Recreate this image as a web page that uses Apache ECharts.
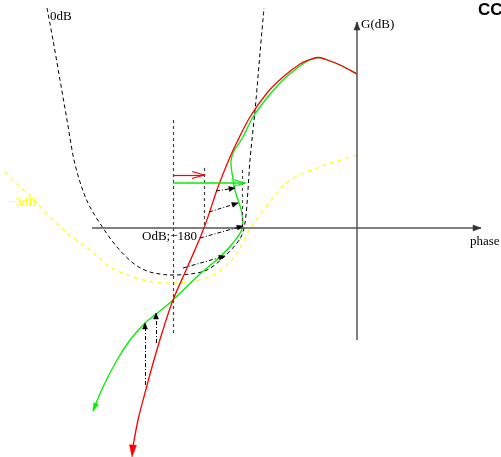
<!DOCTYPE html>
<html><head><meta charset="utf-8">
<script src="https://cdn.jsdelivr.net/npm/echarts@6/dist/echarts.min.js"></script>
<style>html,body{margin:0;padding:0;background:#fff}#c{width:501px;height:457px}</style>
</head><body><div id="c"></div>
<script>
// Nichols-plane sketch: open-loop locus (red), corrected locus (green),
// 0 dB and -3 dB closed-loop contours. Coordinates are in plane units.

const redLocus = [[132,452],[138,420],[145,393],[152,367],[162,333],[173,300],[187,268],[204,228],[218,187],[230,157],[237,142],[250,117],[267,93],[283,77],[300,64],[310,59.5],[318,57.5],[326,59.5],[340,65],[357,74]];
const greenLocus = [[93,411],[103,387],[117,360],[130,340],[145,323],[155,315],[173,300],[200,274],[220,257],[233,243],[242,229],[242,213],[238,200],[235,190],[232,173],[231,161],[234,151],[243,137],[253,117],[267,98],[283,80],[300,66],[310,60],[318,57.5],[326,59.5],[340,65],[357,74]];
const zeroDbContour = [[47,8],[53,40],[60,80],[67,120],[74,160],[82,188],[90,207],[103,228],[117,247],[133,263],[147,271],[160,274],[172,275],[190,274],[207,270],[223,258],[237,243],[243,232],[246,215],[248,190],[250,160],[253,130],[256,100],[260,53],[264,8]];
const minus3DbContour = [[5,172],[20,187],[33,198],[45,212],[67,233],[90,250],[110,267],[133,277],[153,282],[173,283],[195,281],[215,274],[230,262],[240,248],[250,229],[260,215],[273,198],[283,186],[297,176],[317,168],[337,161],[357,155]];

// guide verticals [x, yTop, yBottom]
const guides = [[173,120,333],[204,168,228],[242,170,228]];

// correction arrows [fromX, fromY, toX, toY]
const redShift = [[173,175,204,175]];
const greenShift = [[173,183,245,183]];
const correctionArrows = [[216,191,235,188],[209,212,238,203],[200,238,243,226],[183,268,225,256],[145,385,145,323],[156,343,156,313]];

// plane axes [fromX, fromY, toX, toY]
const phaseAxis = [92,228,481,228];
const gainAxis = [357,340,357,22];

// labels [text, x, y, colour]
const labels = [
  ['0dB', 50, 17, '#000'],
  ['G(dB)', 361, 25, '#000'],
  ['phase', 470, 242, '#000'],
  ['OdB;\u2212180', 142, 237, '#000'],
  ['\u22123dB', 8, 203, '#ffff00']
];

const chart = echarts.init(document.getElementById('c'), null, {renderer: 'canvas'});

// smooth curve through the given points (Catmull-Rom drawn as cubic Beziers)
function curve(points, color, width, dash) {
  return {
    type: 'custom', silent: true, z: 3,
    data: [points[0]],
    renderItem: function (params, api) {
      const p = points.map(v => api.coord(v));
      let d = 'M' + p[0][0] + ' ' + p[0][1];
      for (let i = 0; i < p.length - 1; i++) {
        const p0 = p[i - 1] || p[i], p1 = p[i], p2 = p[i + 1], p3 = p[i + 2] || p[i + 1];
        const c1 = [p1[0] + (p2[0] - p0[0]) / 6, p1[1] + (p2[1] - p0[1]) / 6];
        const c2 = [p2[0] - (p3[0] - p1[0]) / 6, p2[1] - (p3[1] - p1[1]) / 6];
        d += ' C' + c1[0] + ' ' + c1[1] + ' ' + c2[0] + ' ' + c2[1] + ' ' + p2[0] + ' ' + p2[1];
      }
      return {
        type: 'path', shape: {pathData: d},
        style: {stroke: color, lineWidth: width, fill: 'none', lineDash: dash || null}
      };
    }
  };
}

function segments(list, color, width, type) {
  return {
    type: 'lines', coordinateSystem: 'cartesian2d', silent: true,
    data: list.map(s => ({coords: [[s[0], s[1]], [s[2], s[3]]]})),
    lineStyle: {color: color, width: width, type: type, opacity: 1}, z: 4
  };
}

// arrowheads built from [tipX, tipY, fromX, fromY]
function heads(list, color, len, hw, open) {
  return {
    type: 'custom', silent: true, z: 5,
    data: list,
    renderItem: function (params, api) {
      const p = api.coord([api.value(0), api.value(1)]);
      const q = api.coord([api.value(2), api.value(3)]);
      let dx = p[0] - q[0], dy = p[1] - q[1];
      const L = Math.sqrt(dx * dx + dy * dy) || 1;
      dx /= L; dy /= L;
      const bx = p[0] - dx * len, by = p[1] - dy * len;
      const a = [bx - dy * hw, by + dx * hw], b = [bx + dy * hw, by - dx * hw];
      if (open) {
        return {type: 'polyline', shape: {points: [a, p, b]}, style: {stroke: color, lineWidth: 1.2, fill: 'none'}};
      }
      return {type: 'polygon', shape: {points: [a, p, b]}, style: {fill: color, stroke: color, lineWidth: 0.5}};
    }
  };
}

const tipOf = s => [s[2], s[3], s[0], s[1]];
const startOf = arr => [arr[0][0], arr[0][1], arr[1][0], arr[1][1]];

const guideSegs = guides.map(g => [g[0], g[1], g[0], g[2]]);

chart.setOption({
  animation: false,
  backgroundColor: '#fff',
  grid: {left: 0, right: 0, top: 0, bottom: 0},
  xAxis: {type: 'value', min: 0, max: 501, show: false},
  yAxis: {type: 'value', min: 0, max: 457, inverse: true, show: false},
  series: [
    segments([phaseAxis, gainAxis], '#555', 1.5, 'solid'),
    heads([tipOf(phaseAxis), tipOf(gainAxis)], '#333', 8, 3, false),
    curve(zeroDbContour, '#000', 1, [4, 3]),
    curve(minus3DbContour, '#ffff00', 1.2, [4, 4]),
    segments(guideSegs, '#444', 1.2, [3, 3]),
    curve(greenLocus, '#00ee00', 1.3),
    curve(redLocus, '#ff0000', 1.3),
    heads([startOf(greenLocus)], '#00ee00', 8, 2.5, false),
    heads([[132, 457, 133, 445]], '#ff0000', 12, 3.5, false),
    segments(redShift, '#ff0000', 1.2, 'solid'),
    heads(redShift.map(tipOf), '#ff0000', 12, 3.5, true),
    segments(greenShift, '#00ee00', 1.5, 'solid'),
    heads(greenShift.map(tipOf), '#00ee00', 12, 3.5, true),
    segments(correctionArrows, '#000', 1, [4, 2, 1, 2]),
    heads(correctionArrows.map(tipOf), '#000', 6, 2.5, false)
  ],
  graphic: labels.map(l => ({
    type: 'text', x: l[1], y: l[2], z: 10,
    style: {text: l[0], fill: l[3], font: '13px "Liberation Serif", serif', textVerticalAlign: 'middle'}
  })).concat([{
    type: 'text', x: 478, y: 2, z: 10,
    style: {text: 'CC', fill: '#000', font: 'bold 17px "Liberation Sans", sans-serif', textVerticalAlign: 'top'}
  }])
});
</script></body></html>
